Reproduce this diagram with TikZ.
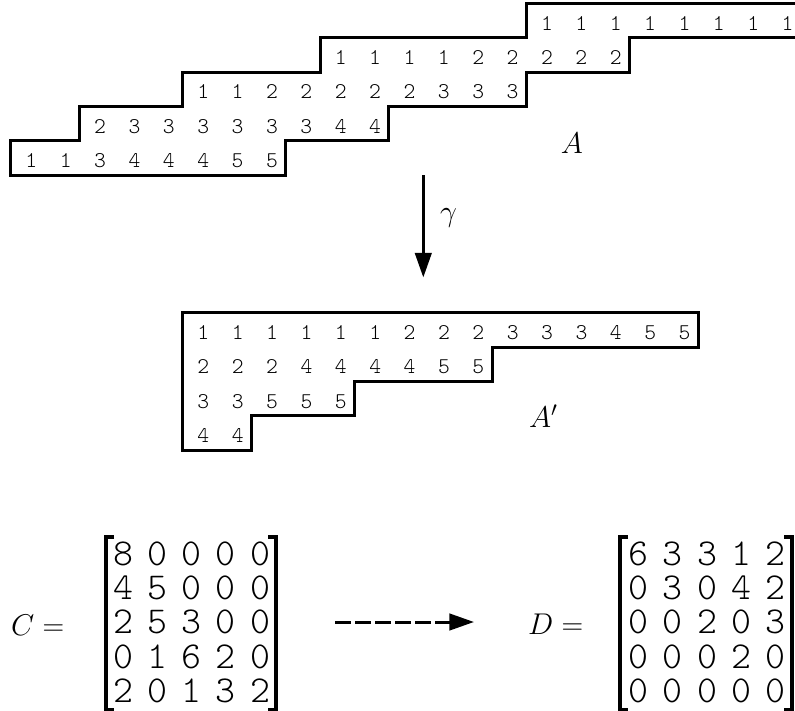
\RequirePackage{fix-cm}
\documentclass[tikz,border=0pt]{standalone}
\usepackage{fontspec}
\newfontfamily\courierdigits{lmmonolt10-regular.otf}
\usetikzlibrary{arrows.meta}
\begin{document}
\begin{tikzpicture}[x=1pt,y=-1pt,
  edge/.style={line width=3pt, line join=miter},
  cellnum/.style={font=\courierdigits\fontsize{22.5}{22.5}\selectfont, anchor=base, inner sep=0pt},
  matnum/.style={font=\courierdigits\fontsize{38}{38}\selectfont, anchor=base, inner sep=0pt},
  lbl/.style={font=\fontsize{30}{36}\selectfont, anchor=base, inner sep=0pt},
  brk/.style={line width=3.5pt, line join=miter},
  arr/.style={line width=3pt, -{Triangle[length=24.7pt,width=16.5pt]}}]
\useasboundingbox (0,0) rectangle (795,711);
\def\s{34.37}
% tableau A
\draw[edge] (10.7,175.15) -- (10.7,140.78) -- (79.44,140.78) -- (79.44,106.41)
  -- (182.55,106.41) -- (182.55,72.04) -- (320.03,72.04) -- (320.03,37.67)
  -- (526.25,37.67) -- (526.25,3.3) -- (801.21,3.3) -- (801.21,37.67)
  -- (629.36,37.67) -- (629.36,72.04) -- (526.25,72.04) -- (526.25,106.41)
  -- (388.77,106.41) -- (388.77,140.78) -- (285.66,140.78) -- (285.66,175.15) -- cycle;
\foreach \k/\st/\lst in {0/15/{1,1,1,1,1,1,1,1},1/9/{1,1,1,1,2,2,2,2,2},2/5/{1,1,2,2,2,2,2,3,3,3},3/2/{2,3,3,3,3,3,3,4,4},4/0/{1,1,3,4,4,4,5,5}}{
  \foreach \v [count=\i from 0] in \lst {
    \node[cellnum] (a-\k-\i) at ({10.7+(\st+\i+0.5)*\s+3.5},{3.3+(\k+1)*\s-7.5}) {\v};
  }
}
\node[lbl] (lA) at (572,153.3) {$A$};
% gamma arrow
\coordinate (g1) at (423.3,175.15);
\coordinate (g2) at (423.3,277.5);
\draw[arr] (g1) -- (g2);
\node[lbl, anchor=base west] (gam) at (440,222) {$\gamma$};
% tableau A'
\draw[edge] (182.7,312.7) -- (698.25,312.7) -- (698.25,347.07) -- (492.03,347.07)
  -- (492.03,381.44) -- (354.55,381.44) -- (354.55,415.81) -- (251.44,415.81)
  -- (251.44,450.18) -- (182.7,450.18) -- cycle;
\foreach \k/\lst in {0/{1,1,1,1,1,1,2,2,2,3,3,3,4,5,5},1/{2,2,2,4,4,4,4,5,5},2/{3,3,5,5,5},3/{4,4}}{
  \foreach \v [count=\i from 0] in \lst {
    \node[cellnum] (b-\k-\i) at ({182.7+(\i+0.5)*\s+3.5},{312.7+(\k+1)*\s-7.5}) {\v};
  }
}
\node[lbl, anchor=base west] (lAp) at (529,427) {$A'$};
% matrix C
\node[lbl, anchor=base west] (lC) at (11,635) {$C =$};
\draw[brk] (114,537) -- (106,537) -- (106,710) -- (114,710);
\draw[brk] (268,537) -- (276,537) -- (276,710) -- (268,710);
\foreach \lst [count=\r from 0] in {{8,0,0,0,0},{4,5,0,0,0},{2,5,3,0,0},{0,1,6,2,0},{2,0,1,3,2}}{
  \foreach \v [count=\j from 0] in \lst {
    \node[matnum] (c-\r-\j) at ({123+\j*34.25},{565+\r*\s}) {\v};
  }
}
% dashed arrow
\coordinate (d1) at (335,622);
\coordinate (d2) at (474,622);
\draw[arr, dash pattern=on 15.5pt off 4.5pt] (d1) -- (d2);
% matrix D
\node[lbl, anchor=base west] (lD) at (528,634.5) {$D =$};
\draw[brk] (628,537) -- (620,537) -- (620,710) -- (628,710);
\draw[brk] (784,537) -- (792,537) -- (792,710) -- (784,710);
\foreach \lst [count=\r from 0] in {{6,3,3,1,2},{0,3,0,4,2},{0,0,2,0,3},{0,0,0,2,0},{0,0,0,0,0}}{
  \foreach \v [count=\j from 0] in \lst {
    \node[matnum] (e-\r-\j) at ({638.3+\j*34.35},{565+\r*\s}) {\v};
  }
}
\end{tikzpicture}
\end{document}
